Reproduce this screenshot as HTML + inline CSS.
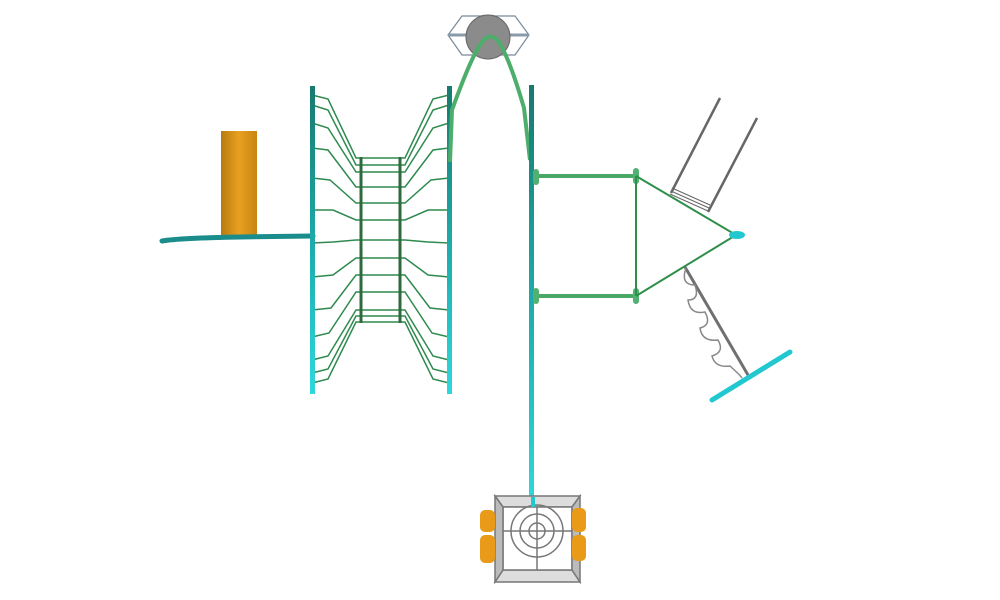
<!DOCTYPE html>
<html><head><style>html,body{margin:0;padding:0;background:#fff}svg{display:block}</style></head>
<body>
<svg width="1000" height="600" viewBox="0 0 1000 600" xmlns="http://www.w3.org/2000/svg">
<defs>
<linearGradient id="post" x1="0" y1="0" x2="0" y2="1"><stop offset="0" stop-color="#177a6e"/><stop offset="0.6" stop-color="#1fb3b5"/><stop offset="1" stop-color="#2fd8dc"/></linearGradient>
<linearGradient id="slide" x1="0" y1="0" x2="1" y2="0"><stop offset="0" stop-color="#b87a10"/><stop offset="0.5" stop-color="#e8a020"/><stop offset="1" stop-color="#c88412"/></linearGradient>
</defs>
<!-- slide -->
<rect x="221" y="131" width="36" height="108" fill="url(#slide)"/>
<path d="M162 241 Q180 238 240 237 L313 236" stroke="#1a8c8c" stroke-width="5" fill="none" stroke-linecap="round"/>
<!-- net wires -->
<g stroke="#2e8a4e" stroke-width="1.5" fill="none">
<path d="M312 95 L328 99 L356 158 L400 158 L405 158 L433 99 L449 95"/>
<path d="M312 105 L328 110 L356 165 L405 165 L433 110 L449 105"/>
<path d="M312 123 L328 128 L356 172 L405 172 L433 128 L449 123"/>
<path d="M312 148 L328 150 L356 187 L405 187 L433 150 L449 148"/>
<path d="M312 178 L330 180 L356 203 L405 203 L431 180 L449 178"/>
<path d="M312 210 L333 210 L356 220 L405 220 L428 210 L449 210"/>
<path d="M312 243 L333 242 L356 240 L405 240 L428 242 L449 243"/>
<path d="M312 277 L333 275 L356 258 L405 258 L428 275 L449 277"/>
<path d="M312 310 L331 308 L356 275 L405 275 L430 308 L449 310"/>
<path d="M312 337 L329 333 L356 292 L405 292 L432 333 L449 337"/>
<path d="M312 360 L328 356 L356 310 L405 310 L433 356 L449 360"/>
<path d="M312 373 L328 369 L356 316 L405 316 L433 369 L449 373"/>
<path d="M312 383 L328 379 L356 322 L405 322 L433 379 L449 383"/>
</g>
<g stroke="#2e6a3e" stroke-width="3"><line x1="361" y1="157" x2="361" y2="323"/><line x1="400" y1="157" x2="400" y2="323"/></g>
<!-- posts -->
<rect x="310" y="86" width="5" height="308" fill="url(#post)"/>
<rect x="447" y="86" width="5" height="308" fill="url(#post)"/>
<!-- top disc -->
<polygon points="448,35 462,16 515,16 529,35 515,55 462,55" fill="none" stroke="#7a8a99" stroke-width="1.2"/>
<line x1="448" y1="35" x2="529" y2="35" stroke="#8a9aa8" stroke-width="3"/>
<circle cx="488" cy="37" r="22" fill="#8b8b8b" stroke="#666" stroke-width="1"/>
<!-- arch -->
<path d="M450 162 L452 110 Q470 60 480 45 Q489 30 499 42 Q510 60 524 108 L530 160" stroke="#4cae6a" stroke-width="4" fill="none"/>
<!-- right post -->
<rect x="529" y="85" width="5" height="420" fill="url(#post)"/>
<!-- frame -->
<g stroke="#4aa866" stroke-width="4"><line x1="536" y1="176" x2="636" y2="176"/><line x1="536" y1="296" x2="636" y2="296"/></g>
<g fill="#52b070"><rect x="533" y="169" width="6" height="16" rx="3"/><rect x="533" y="288" width="6" height="16" rx="3"/><rect x="633" y="168" width="6" height="16" rx="3"/><rect x="633" y="288" width="6" height="16" rx="3"/></g>
<g stroke="#2f8f4a" stroke-width="2" fill="none"><line x1="636" y1="176" x2="636" y2="296"/><path d="M636 176 L736 235 L636 296"/></g>
<!-- swing -->
<g stroke="#666" stroke-width="2.5"><line x1="720" y1="98" x2="671" y2="193"/><line x1="757" y1="118" x2="708" y2="212"/></g>
<g stroke="#666" stroke-width="1"><line x1="672" y1="188" x2="710" y2="205"/><line x1="671" y1="191" x2="709" y2="208"/><line x1="670" y1="194" x2="708" y2="211"/></g>
<ellipse cx="737" cy="235" rx="8" ry="4" fill="#22c8d0"/>
<!-- spring rider -->
<line x1="685" y1="267" x2="748" y2="375" stroke="#707070" stroke-width="3"/>
<path d="M686 268 Q680 285 695 285 Q700 300 688 300 Q690 315 705 312 Q712 325 700 328 Q702 342 718 340 Q725 352 712 356 Q715 368 730 366 Q740 375 742 378" stroke="#888" stroke-width="1.5" fill="none"/>
<line x1="712" y1="400" x2="790" y2="352" stroke="#22c8d0" stroke-width="5" stroke-linecap="round"/>
<!-- bottom box -->
<g stroke="#777" stroke-width="1.5" fill="none">
<polygon points="495,496 580,496 572,507 503,507" fill="#ddd"/>
<polygon points="495,582 580,582 572,570 503,570" fill="#ddd"/>
<rect x="503" y="507" width="69" height="63" fill="#fff"/>
<polygon points="495,496 503,507 503,570 495,582" fill="#bbb"/>
<polygon points="580,496 572,507 572,570 580,582" fill="#bbb"/>
<circle cx="537" cy="531" r="26"/><circle cx="537" cy="531" r="17"/><circle cx="537" cy="531" r="8"/>
<line x1="503" y1="531" x2="572" y2="531"/><line x1="537" y1="507" x2="537" y2="570"/>
</g>
<g fill="#e89a18"><rect x="480" y="510" width="15" height="22" rx="5"/><rect x="480" y="535" width="15" height="28" rx="5"/><rect x="572" y="508" width="14" height="24" rx="5"/><rect x="572" y="535" width="14" height="26" rx="5"/></g>
<rect x="531" y="497" width="4" height="10" fill="#22c8d0"/>
</svg>
</body></html>
